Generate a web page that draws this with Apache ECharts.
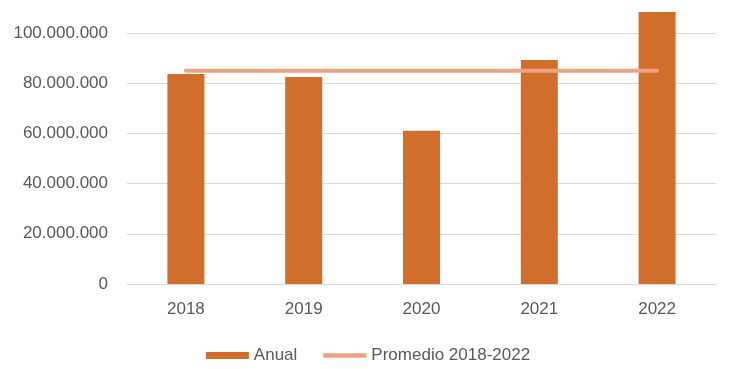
<!DOCTYPE html>
<html>
<head>
<meta charset="utf-8">
<script src="https://cdn.jsdelivr.net/npm/echarts@6/dist/echarts.min.js"></script>
<style>html,body{margin:0;padding:0;background:#fff;}#c{width:736px;height:369px;}</style>
</head>
<body>
<div id="c"></div>
<script>
var categories = ['2018', '2019', '2020', '2021', '2022'];
var anual = [83700000, 82500000, 61100000, 89200000, 108400000];
var promedio = [85000000, 85000000, 85000000, 85000000, 85000000];
var yTicks = [0, 20000000, 40000000, 60000000, 80000000, 100000000];

function fmt(v) {
  return String(Math.round(v)).replace(/\B(?=(\d{3})+(?!\d))/g, '.');
}

var chart = echarts.init(document.getElementById('c'), null, {renderer: 'canvas'});
chart.setOption({
  animation: false,
  textStyle: {fontFamily: 'Liberation Sans'},
  grid: {left: 127, right: 20, top: 33, bottom: 85, containLabel: false},
  legend: {
    top: 342,
    left: 'center',
    itemGap: 26,
    itemWidth: 43,
    itemHeight: 7,
    textStyle: {fontSize: 17, color: '#595959', fontFamily: 'Liberation Sans'},
    data: [
      {name: 'Anual', icon: 'rect'},
      {name: 'Promedio 2018-2022', icon: 'path://M0,0 L10,0 L10,1 L0,1 Z', itemStyle: {color: '#EFA384'}}
    ]
  },
  xAxis: {
    type: 'category',
    data: categories,
    axisLine: {show: true, lineStyle: {color: '#D9D9D9', width: 1}},
    axisTick: {show: false},
    axisLabel: {fontSize: 17, color: '#595959', margin: 17}
  },
  yAxis: {
    type: 'value',
    min: yTicks[0],
    max: yTicks[yTicks.length - 1],
    interval: yTicks[1] - yTicks[0],
    axisLine: {show: false},
    axisTick: {show: false},
    splitLine: {lineStyle: {color: '#D9D9D9', width: 1}},
    axisLabel: {fontSize: 17, color: '#595959', margin: 19, formatter: fmt}
  },
  series: [
    {
      name: 'Anual',
      type: 'bar',
      data: anual,
      barWidth: 37,
      clip: false,
      itemStyle: {color: '#D26E2B'}
    },
    {
      name: 'Promedio 2018-2022',
      type: 'line',
      data: promedio,
      symbol: 'none',
      clip: false,
      lineStyle: {color: '#EFA384', width: 4, cap: 'round'},
      itemStyle: {color: '#EFA384'}
    }
  ]
});
</script>
</body>
</html>
